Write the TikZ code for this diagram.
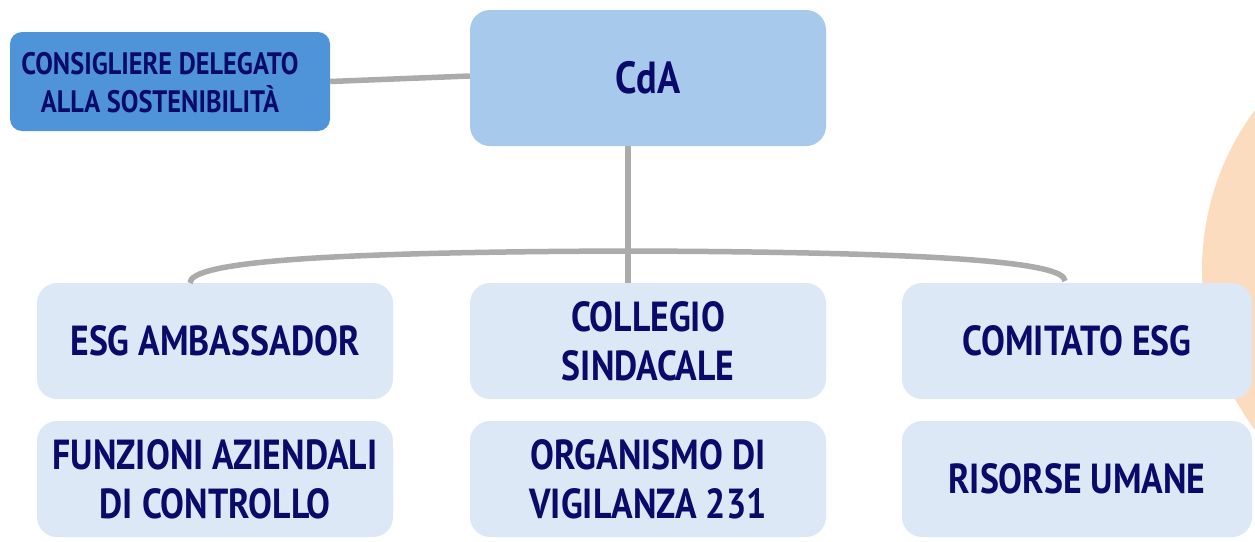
\documentclass[tikz,border=0pt]{standalone}
\usepackage{fontspec}
\newfontfamily\hand{PT Sans}[FakeStretch=0.85]
\definecolor{navy}{HTML}{0A0A6B}
\definecolor{dblue}{HTML}{4F94D9}
\definecolor{mblue}{HTML}{A7C9EC}
\definecolor{lblue}{HTML}{DCE8F5}
\definecolor{peach}{HTML}{FCDCBE}
\definecolor{conn}{HTML}{ABABAB}
\begin{document}
\begin{tikzpicture}[x=1pt,y=-1pt,
  box/.style={fill=lblue,rounded corners=20pt,minimum width=356pt,minimum height=116pt,inner sep=0pt,
    font=\hand\bfseries\fontsize{42}{49}\selectfont,text=navy,align=center},
  link/.style={draw=conn,line width=5.5pt}]
\useasboundingbox (0,0) rectangle (1255,541);
\begin{scope}
\clip (0,0) rectangle (1255,541);
\fill[peach] (1470,270) circle[radius=268];
\end{scope}
\node[box,fill=dblue,rounded corners=12pt,minimum width=320pt,minimum height=99pt] (cons) at (170,81.5) {};
\node[font=\hand\bfseries\fontsize{31}{38}\selectfont,text=navy,align=center,inner sep=0pt] (constext) at (160,83) {CONSIGLIERE DELEGATO\\ALLA SOSTENIBILITÀ};
\node[box,fill=mblue,minimum height=136pt,font=\hand\bfseries\fontsize{45}{50}\selectfont] (cda) at (648,78) {CdA};
\node[box] (esg) at (215,341) {ESG AMBASSADOR};
\node[box] (coll) at (648,341) {COLLEGIO\\SINDACALE};
\node[box,minimum width=350pt] (com) at (1077,341) {COMITATO ESG};
\node[box] (funz) at (215,479) {FUNZIONI AZIENDALI\\DI CONTROLLO};
\node[box] (org) at (648,479) {ORGANISMO DI\\VIGILANZA 231};
\node[box,minimum width=350pt] (ris) at (1077,479) {RISORSE UMANE};
\coordinate (l) at (190,283);
\coordinate (r) at (1065,281);
\coordinate (m) at (628,251);
\draw[link] (cons.east) -- (cda.west |- 0,76);
\draw[link] (cda.south -| m) -- (coll.north -| m);
\draw[link] (l) .. controls (190,262) and (320,252) .. (m) .. controls (940,252) and (1065,262) .. (r);
\end{tikzpicture}
\end{document}
